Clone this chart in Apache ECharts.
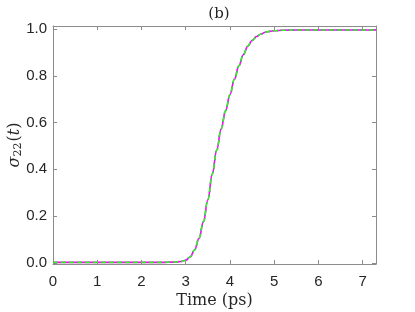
<!DOCTYPE html>
<html>
<head>
<meta charset="utf-8">
<script src="https://cdn.jsdelivr.net/npm/echarts@6/dist/echarts.min.js"></script>
<style>
  html, body { margin: 0; padding: 0; background: #fff; }
  #chart { width: 415px; height: 312px; }
</style>
</head>
<body>
<div id="chart"></div>
<script>
// time (ps) and population sigma_22(t)
const times = [0, 0.5, 1, 1.5, 2, 2.5, 2.7, 2.8, 2.9, 3.0, 3.1, 3.2, 3.3, 3.4, 3.5, 3.6, 3.7, 3.8, 3.9, 4.0,
  4.1, 4.2, 4.3, 4.4, 4.5, 4.6, 4.7, 4.8, 4.9, 5.0, 5.2, 5.5, 6.0, 6.5, 7.0, 7.3];
const sigma22 = [0.002, 0.002, 0.002, 0.002, 0.002, 0.002, 0.003, 0.004, 0.006, 0.011, 0.025, 0.055, 0.105,
  0.175, 0.27, 0.38, 0.482, 0.572, 0.65, 0.72, 0.785, 0.843, 0.89, 0.926, 0.951, 0.968, 0.979, 0.986,
  0.990, 0.993, 0.995, 0.996, 0.996, 0.996, 0.996, 0.996];
const xTicks = [0, 1, 2, 3, 4, 5, 6, 7];
const yTicks = [0, 0.2, 0.4, 0.6, 0.8, 1.0];

const pts = times.map((t, i) => [t, sigma22[i]]);

const frameColor = '#8c8c8c';
const labelFont = { color: '#262626', fontSize: 15, fontFamily: 'Liberation Sans' };

const chart = echarts.init(document.getElementById('chart'));

function axisBase(extra) {
  return Object.assign({
    type: 'value',
    axisLine: { show: true, onZero: false, lineStyle: { color: frameColor, width: 1 } },
    axisTick: { show: true, inside: true, length: 4, lineStyle: { color: frameColor } },
    splitLine: { show: false }
  }, extra);
}

chart.setOption({
  animation: false,
  title: {
    text: '(b)',
    left: 214, top: 2, textAlign: 'center',
    textStyle: { fontFamily: 'DejaVu Serif', fontWeight: 'normal', fontSize: 15, color: '#262626' }
  },
  grid: { left: 53, right: 39, top: 26, bottom: 48, outerBoundsMode: 'none' },
  xAxis: [
    axisBase({
      min: 0, max: 7.3,
      axisTick: { show: true, inside: true, length: 4, lineStyle: { color: frameColor }, customValues: xTicks },
      axisLabel: Object.assign({ margin: 10, customValues: xTicks, formatter: v => String(v) }, labelFont),
      name: 'Time (ps)', nameLocation: 'middle', nameGap: 29, nameMoveOverlap: false,
      nameTextStyle: { fontFamily: 'DejaVu Serif', fontSize: 16, color: '#262626' }
    }),
    axisBase({
      position: 'top', min: 0, max: 7.3,
      axisTick: { show: true, inside: true, length: 4, lineStyle: { color: frameColor }, customValues: xTicks },
      axisLabel: { show: false }
    })
  ],
  yAxis: [
    axisBase({
      min: -0.005, max: 1.013,
      axisTick: { show: true, inside: true, length: 4, lineStyle: { color: frameColor }, customValues: yTicks },
      axisLabel: Object.assign({ margin: 6, customValues: yTicks, formatter: v => v.toFixed(1) }, labelFont),
      name: '{s|σ}{sub|22}{p|(}{t|t}{p|)}',
      nameLocation: 'middle', nameGap: 29, nameRotate: 90, nameMoveOverlap: false,
      nameTextStyle: {
        rich: {
          s: { fontFamily: 'DejaVu Serif', fontStyle: 'italic', fontSize: 16, color: '#262626' },
          sub: { fontFamily: 'DejaVu Serif', fontSize: 11, color: '#262626', padding: [7, 1, 0, 0] },
          p: { fontFamily: 'DejaVu Serif', fontSize: 16, color: '#262626' },
          t: { fontFamily: 'DejaVu Serif', fontStyle: 'italic', fontSize: 16, color: '#262626' }
        }
      }
    }),
    axisBase({
      position: 'right', min: -0.005, max: 1.013,
      axisTick: { show: true, inside: true, length: 4, lineStyle: { color: frameColor }, customValues: yTicks },
      axisLabel: { show: false }
    })
  ],
  series: [
    {
      type: 'line', data: pts, showSymbol: false, smooth: 0.4, smoothMonotone: 'x',
      lineStyle: { color: '#ff00ff', width: 1.6 }
    },
    {
      type: 'line', data: pts, showSymbol: false, smooth: 0.4, smoothMonotone: 'x',
      lineStyle: { color: '#3030ff', width: 1.4, type: [1, 3] }
    },
    {
      type: 'line', data: pts, showSymbol: false, smooth: 0.4, smoothMonotone: 'x',
      lineStyle: { color: '#33ee22', width: 1.6, type: [5, 3] }
    }
  ]
});
</script>
</body>
</html>
